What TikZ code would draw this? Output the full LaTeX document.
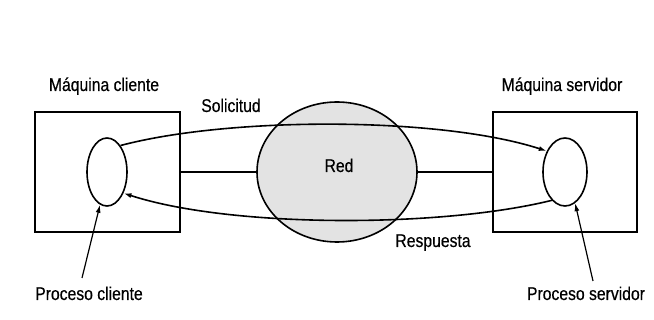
\documentclass[tikz,border=0pt]{standalone}
\usepackage{fontspec}
\setmainfont[FakeStretch=0.85,FakeBold=0.4]{Liberation Sans}
\usetikzlibrary{shapes.geometric,arrows.meta}
\begin{document}
\begin{tikzpicture}[x=1pt,y=-1pt,
  line width=1.6pt,
  machine/.style={draw,rectangle,minimum width=#1,minimum height=120pt,inner sep=0pt},
  proc/.style={draw,ellipse,minimum width=#1,minimum height=68pt,inner sep=0pt},
  net/.style={draw,ellipse,fill=gray!22,minimum width=160pt,minimum height=140pt,inner sep=0pt},
  lbl/.style={anchor=base,inner sep=0pt,font=\fontsize{18.5}{20}\selectfont},
  arr/.style={-{Latex[length=8pt,width=5pt]}}]
\useasboundingbox (0,0) rectangle (654,320);
\fill[white] (0,0) rectangle (654,320);

% machines, processes and network
\node[machine=145pt] (lbox) at (107.5,172) {};
\node[machine=144pt] (rbox) at (565,172) {};
\node[proc=40pt] (lc) at (107,172) {};
\node[proc=44pt] (rc) at (565,172) {};
\node[net] (red) at (337,172) {};

% labels
\node[lbl] (mc) at (104,91) {Máquina cliente};
\node[lbl] (ms) at (562,91) {Máquina servidor};
\node[lbl] (sol) at (231,112) {Solicitud};
\node[lbl] (resp) at (433,247) {Respuesta};
\node[lbl] (rd) at (339,172) {Red};
\node[lbl] (pc) at (89,300) {Proceso cliente};
\node[lbl] (ps) at (586,300) {Proceso servidor};

% physical links
\draw (lbox.east) -- (red.west);
\draw (red.east) -- (rbox.west);

% request and reply
\draw[arr] (lc.63) .. controls (230,116.5) and (440,116.5) .. (rc.131);
\draw[arr] (rc.245) .. controls (440,228) and (230,228) .. (lc.308);

% pointers to the processes
\coordinate (pcs) at (82,278);
\coordinate (pss) at (593,281);
\draw[line width=1.2pt,arr] (pcs) -- (lc.258);
\draw[line width=1.2pt,arr] (pss) -- (rc.288);
\end{tikzpicture}
\end{document}
